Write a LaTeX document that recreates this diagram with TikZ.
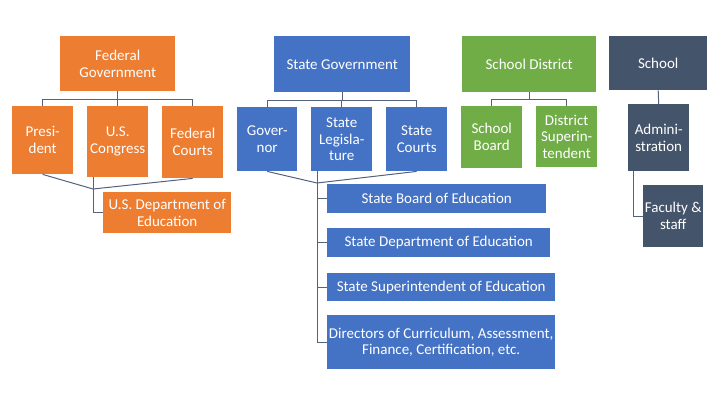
\documentclass[tikz,border=0pt]{standalone}
\usepackage{fontspec}
\setmainfont{Carlito}
\usetikzlibrary{positioning}
\definecolor{fedorange}{RGB}{237,125,49}
\definecolor{stateblue}{RGB}{68,114,196}
\definecolor{distgreen}{RGB}{112,173,71}
\definecolor{schoolslate}{RGB}{68,84,106}
\definecolor{linkgray}{RGB}{84,98,126}
\tikzset{
  orgbox/.style={anchor=north west, inner sep=0pt, text=white, align=center,
    font=\fontsize{15}{16.8}\selectfont},
  boxsize/.style 2 args={minimum width=#1, minimum height=#2},
  fedbox/.style={orgbox, fill=fedorange},
  statebox/.style={orgbox, fill=stateblue},
  distbox/.style={orgbox, fill=distgreen},
  schoolbox/.style={orgbox, fill=schoolslate},
  link/.style={draw=linkgray, line width=1pt}
}

\begin{document}
\begin{tikzpicture}[x=1pt, y=-1pt]
      \useasboundingbox[fill=white] (0,0) rectangle (720,405);

      \node[fedbox, boxsize={115}{55}] (fedgov) at (60,36) {Federal\\Government};
      \node[fedbox, boxsize={61}{68}] (pres) at (12,106) {Presi-\\dent};
      \node[fedbox, boxsize={61}{71}] (congress) at (87,106) {U.S.\\Congress};
      \node[fedbox, boxsize={61}{72}] (fcourts) at (162,106) {Federal\\Courts};
      \node[fedbox, boxsize={128}{41}] (usdoe) at (103,192) {U.S. Department of\\Education};

      \node[statebox, boxsize={136}{56}] (stategov) at (274,36) {State Government};
      \node[statebox, boxsize={60}{64}] (gov) at (237,107) {Gover-\\nor};
      \node[statebox, boxsize={61}{64}] (legis) at (311,107) {State\\Legisla-\\ture};
      \node[statebox, boxsize={61}{64}] (scourts) at (386,107) {State\\Courts};
      \node[statebox, boxsize={219}{29}] (sboard) at (327,184) {State Board of Education};
      \node[statebox, boxsize={223}{29}] (sdept) at (327,228) {State Department of Education};
      \node[statebox, boxsize={228}{28}] (ssuper) at (327,273) {State Superintendent of Education};
      \node[statebox, boxsize={228}{54}] (directors) at (327,315) {Directors of Curriculum, Assessment,\\Finance, Certification, etc.};

      \node[distbox, boxsize={134}{56}] (distgov) at (462,36) {School District};
      \node[distbox, boxsize={61}{62}] (dboard) at (461,106) {School\\Board};
      \node[distbox, boxsize={61}{61}] (dsuper) at (536,106) {District\\Superin-\\tendent};

      \node[schoolbox, boxsize={98}{54}] (school) at (609,36) {School};
      \node[schoolbox, boxsize={61}{67}] (admin) at (628,104) {Admini-\\stration};
      \node[schoolbox, boxsize={60}{62}] (faculty) at (643,185) {Faculty \&\\staff};

      \draw[link] (fedgov.south) -- ++(0,8) coordinate (fedbus);
      \draw[link] (pres.north) -- (pres.north |- fedbus) -- (fcourts.north |- fedbus) -- (fcourts.north);
      \draw[link] (congress.north) -- (congress.north |- fedbus);
      \coordinate (fedjoin) at (93,189);
      \draw[link] (pres.south) -- (fedjoin) -- (fcourts.south);
      \draw[link] (congress.south -| fedjoin) -- (fedjoin |- usdoe.west) -- (usdoe.west);

      \draw[link] (stategov.south) -- ++(0,8) coordinate (statebus);
      \draw[link] (gov.north) -- (gov.north |- statebus) -- (scourts.north |- statebus) -- (scourts.north);
      \draw[link] (legis.north) -- (legis.north |- statebus);
      \coordinate (statejoin) at (317,183);
      \draw[link] (gov.south) -- (statejoin) -- (scourts.south);
      \draw[link] (legis.south -| statejoin) -- (statejoin |- directors.west);
      \foreach \b in {sboard,sdept,ssuper,directors}
        \draw[link] (statejoin |- \b.west) -- (\b.west);

      \draw[link] (distgov.south) -- ++(0,7) coordinate (distbus);
      \draw[link] (dboard.north) -- (dboard.north |- distbus) -- (dsuper.north |- distbus) -- (dsuper.north);

      \draw[link] (school.south) -- (admin.north);
      \draw[link] ([xshift=-25pt]admin.south) -- ([xshift=-25pt]admin.south |- faculty.west) -- (faculty.west);
    \end{tikzpicture}
\end{document}
